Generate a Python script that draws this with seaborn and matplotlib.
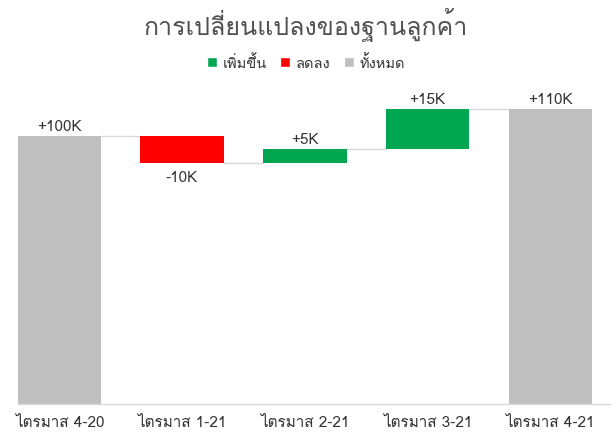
import numpy as np
import matplotlib
matplotlib.use('Agg')
import matplotlib.pyplot as plt
import seaborn as sns
from matplotlib import font_manager, ft2font
from matplotlib.patches import Patch

# ข้อมูล (หน่วย: พันราย)
categorias = ['ไตรมาส 4-20', 'ไตรมาส 1-21', 'ไตรมาส 2-21', 'ไตรมาส 3-21', 'ไตรมาส 4-21']
valores = [100, -10, 5, 15, 110]
tipos = ['total', 'down', 'up', 'up', 'total']
rotulos = ['+100K', '-10K', '+5K', '+15K', '+110K']

cores = {'up': '#00A650', 'down': '#FF0000', 'total': '#BFBFBF'}
legenda = [('up', 'เพิ่มขึ้น'), ('down', 'ลดลง'), ('total', 'ทั้งหมด')]


def achar_fonte_thai():
    for f in font_manager.fontManager.ttflist:
        try:
            if ord('ก') in ft2font.FT2Font(f.fname).get_charmap():
                return f.name
        except Exception:
            pass
    return None


sns.set_theme(style='white')
fonte = achar_fonte_thai()
plt.rcParams['font.family'] = ([fonte] if fonte else []) + ['DejaVu Sans']

fig = plt.figure(figsize=(6.12, 4.39), dpi=100)
ax = fig.add_axes([18 / 612, 34 / 439, (610 - 18) / 612, (405 - 90) / 439])

# calcular bases do waterfall
bases, alturas = [], []
acumulado = 0
for v, t in zip(valores, tipos):
    if t == 'total':
        bases.append(0)
        alturas.append(v)
        acumulado = v
    else:
        bases.append(acumulado + min(v, 0))
        alturas.append(abs(v))
        acumulado += v

x = np.arange(len(categorias))
largura = 0.68
ax.bar(x, alturas, bottom=bases, width=largura,
       color=[cores[t] for t in tipos], linewidth=0, zorder=2)

# linhas conectoras
nivel = 0
for i, (v, t) in enumerate(zip(valores, tipos)):
    nivel = v if t == 'total' else nivel + v
    if i < len(valores) - 1:
        ax.plot([x[i] + largura / 2, x[i + 1] - largura / 2], [nivel, nivel],
                color='#D9D9D9', linewidth=1, zorder=1)

# rótulos de valor
for i, (b, h, t) in enumerate(zip(bases, alturas, tipos)):
    if t == 'down':
        ax.text(x[i], b - 2.8, rotulos[i], ha='center', va='top',
                fontsize=11, color='#333333')
    else:
        ax.text(x[i], b + h + 1.2, rotulos[i], ha='center', va='bottom',
                fontsize=11, color='#333333')

ax.set_xlim(-0.338, 4.487)
ax.set_ylim(0, 117.5)
ax.set_yticks([])
ax.set_xticks(x)
ax.set_xticklabels(categorias, fontsize=11, color='#333333')
ax.tick_params(axis='x', length=0, pad=8)
sns.despine(ax=ax, left=True)
ax.spines['bottom'].set_color('#D9D9D9')
ax.spines['bottom'].set_linewidth(1)

fig.text(0.5, 1 - 25 / 439, 'การเปลี่ยนแปลงของฐานลูกค้า', ha='center', va='center',
         fontsize=18, color='#505050', fontweight='medium')

handles = [Patch(facecolor=cores[k], label=nome) for k, nome in legenda]
fig.legend(handles=handles, loc='center', bbox_to_anchor=(0.5, 1 - 63 / 439),
           ncol=3, frameon=False, fontsize=10.5, handlelength=0.7, handleheight=0.7,
           handletextpad=0.4, columnspacing=0.9, labelcolor='#333333')

fig.savefig('out.png', dpi=100)
plt.close(fig)
